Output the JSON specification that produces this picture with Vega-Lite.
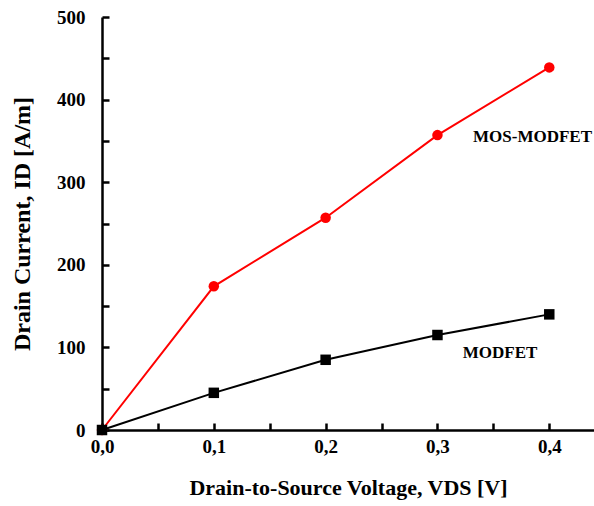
{
  "$schema": "https://vega.github.io/schema/vega-lite/v6.json",
  "width": 492,
  "height": 413,
  "autosize": {"type": "none"},
  "padding": {"left": 102, "top": 17, "right": 0, "bottom": 76},
  "background": "white",
  "config": {
    "view": {"stroke": null},
    "font": "Liberation Serif"
  },
  "datasets": {
    "curves": [
      {"series": "MOS-MODFET", "V": 0.0, "I": 0},
      {"series": "MOS-MODFET", "V": 0.1, "I": 174},
      {"series": "MOS-MODFET", "V": 0.2, "I": 257},
      {"series": "MOS-MODFET", "V": 0.3, "I": 357},
      {"series": "MOS-MODFET", "V": 0.4, "I": 439},
      {"series": "MODFET", "V": 0.0, "I": 0},
      {"series": "MODFET", "V": 0.1, "I": 45},
      {"series": "MODFET", "V": 0.2, "I": 85},
      {"series": "MODFET", "V": 0.3, "I": 115},
      {"series": "MODFET", "V": 0.4, "I": 140}
    ],
    "labels": [
      {"label": "MOS-MODFET", "V": 0.385, "I": 355},
      {"label": "MODFET", "V": 0.356, "I": 93}
    ]
  },
  "layer": [
    {
      "data": {"name": "curves"},
      "mark": {"type": "line", "strokeWidth": 2},
      "encoding": {
        "x": {
          "field": "V", "type": "quantitative",
          "scale": {"domain": [0, 0.44], "nice": false, "zero": false},
          "axis": {
            "tickCount": 9,
            "labelExpr": "(round(datum.value*100) % 10 === 0) ? replace(format(datum.value, '.1f'), '.', ',') : ''",
            "labelFont": "Liberation Serif", "labelFontWeight": "bold", "labelFontSize": 19, "labelColor": "black",
            "labelFlush": false,
            "labelPadding": 14,
            "tickSize": -7,
            "tickColor": "black", "tickWidth": 2.5,
            "domainColor": "black", "domainWidth": 2.5,
            "grid": false,
            "title": "Drain-to-Source Voltage, VDS [V]",
            "titleFont": "Liberation Serif", "titleFontWeight": "bold", "titleFontSize": 22, "titleColor": "black",
            "titlePadding": 21
          }
        },
        "y": {
          "field": "I", "type": "quantitative",
          "scale": {"domain": [0, 500], "nice": false},
          "axis": {
            "tickCount": 10,
            "labelExpr": "(datum.value % 100 === 0) ? datum.value : ''",
            "labelFont": "Liberation Serif", "labelFontWeight": "bold", "labelFontSize": 19, "labelColor": "black",
            "labelFlush": false,
            "labelPadding": 24,
            "tickSize": -7,
            "tickColor": "black", "tickWidth": 2.5,
            "domainColor": "black", "domainWidth": 2.5,
            "grid": false,
            "title": "Drain Current, ID [A/m]",
            "titleFont": "Liberation Serif", "titleFontWeight": "bold", "titleFontSize": 24, "titleColor": "black",
            "titlePadding": 22
          }
        },
        "color": {
          "field": "series", "type": "nominal",
          "scale": {"domain": ["MOS-MODFET", "MODFET"], "range": ["#ff0000", "#000000"]},
          "legend": null
        }
      }
    },
    {
      "mark": {"type": "rule", "color": "black", "strokeWidth": 2.5},
      "encoding": {"y": {"datum": 500, "type": "quantitative"}}
    },
    {
      "data": {"name": "curves"},
      "mark": {"type": "point", "filled": true, "opacity": 1, "size": 110},
      "encoding": {
        "x": {"field": "V", "type": "quantitative"},
        "y": {"field": "I", "type": "quantitative"},
        "color": {"field": "series", "type": "nominal", "legend": null},
        "shape": {
          "field": "series", "type": "nominal",
          "scale": {"domain": ["MOS-MODFET", "MODFET"], "range": ["circle", "square"]},
          "legend": null
        }
      }
    },
    {
      "data": {"name": "labels"},
      "mark": {"type": "text", "font": "Liberation Serif", "fontWeight": "bold", "fontSize": 17, "color": "black"},
      "encoding": {
        "x": {"field": "V", "type": "quantitative"},
        "y": {"field": "I", "type": "quantitative"},
        "text": {"field": "label"}
      }
    }
  ]
}
